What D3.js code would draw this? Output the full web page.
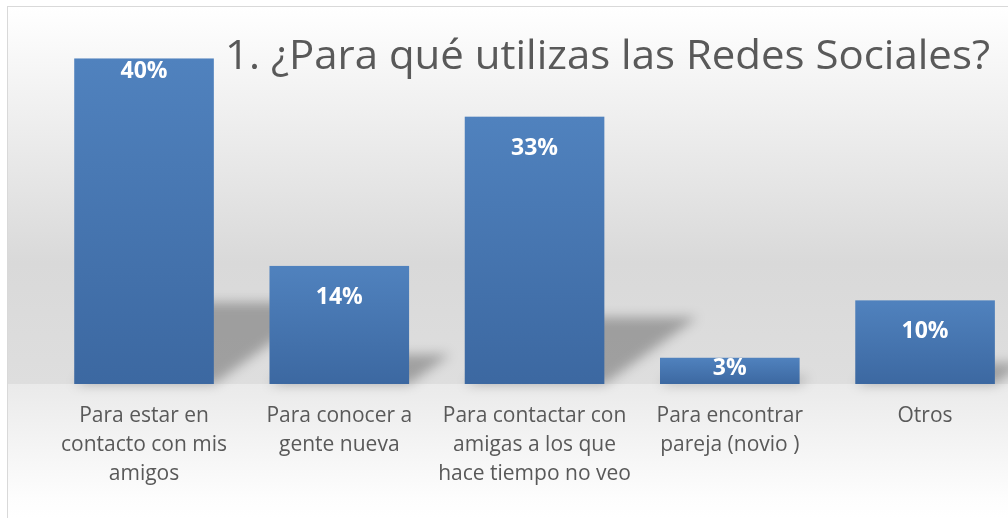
<!DOCTYPE html>
<html>
<meta charset="utf-8">
<head>
    <script src="https://d3js.org/d3.v7.min.js"></script>
</head>

<style>
  body { margin: 0; background: #fff; }
  svg text { font-family: "Open Sans", sans-serif; }
  svg .title { fill: #595959; font-size: 41px; }
  svg .cat-label { fill: #595959; font-size: 21px; text-anchor: middle; }
  svg .val-label { fill: #fff; font-size: 23px; font-weight: 700; text-anchor: middle; }
</style>

<body>
    <script>
        // data
        var categories = [
            "Para estar en\ncontacto con mis\namigos",
            "Para conocer a\ngente nueva",
            "Para contactar con\namigas a los que\nhace tiempo no veo",
            "Para encontrar\npareja (novio )",
            "Otros"
        ];
        var values = [39.7, 14.4, 32.6, 3.2, 10.2];
        var valueLabels = ["40%", "14%", "33%", "3%", "10%"];
        var titleText = "1. ¿Para qué utilizas las Redes Sociales?";

        var width = 1008,
            height = 518,
            baseY = 384;

        var svg = d3.select("body").append("svg")
            .attr("width", width)
            .attr("height", height);

        var defs = svg.append("defs");

        var bg = defs.append("linearGradient").attr("id", "bg")
            .attr("x1", 0).attr("y1", 0).attr("x2", 0).attr("y2", 1);
        bg.append("stop").attr("offset", "0%").attr("stop-color", "#ffffff");
        bg.append("stop").attr("offset", "45%").attr("stop-color", "#e6e6e6");
        bg.append("stop").attr("offset", "68%").attr("stop-color", "#d9d9d9");
        bg.append("stop").attr("offset", "100%").attr("stop-color", "#dedede");

        var floor = defs.append("linearGradient").attr("id", "floor")
            .attr("x1", 0).attr("y1", 0).attr("x2", 0).attr("y2", 1);
        floor.append("stop").attr("offset", "0%").attr("stop-color", "#eaeaea");
        floor.append("stop").attr("offset", "85%").attr("stop-color", "#fdfdfd");
        floor.append("stop").attr("offset", "100%").attr("stop-color", "#ffffff");

        var barGrad = defs.append("linearGradient").attr("id", "barGrad")
            .attr("x1", 0).attr("y1", 0).attr("x2", 0).attr("y2", 1);
        barGrad.append("stop").attr("offset", "0%").attr("stop-color", "#5082be");
        barGrad.append("stop").attr("offset", "100%").attr("stop-color", "#3c68a1");

        defs.append("filter").attr("id", "blur")
            .attr("x", "-50%").attr("y", "-50%").attr("width", "200%").attr("height", "200%")
            .append("feGaussianBlur").attr("stdDeviation", 6);

        // chart area background + border
        svg.append("rect").attr("x", 7).attr("y", 7).attr("width", width).attr("height", baseY - 7)
            .attr("fill", "url(#bg)");
        svg.append("rect").attr("x", 7).attr("y", baseY).attr("width", width).attr("height", height - baseY)
            .attr("fill", "url(#floor)");
        svg.append("rect").attr("x", 7.5).attr("y", 6.5).attr("width", width + 10).attr("height", height + 10)
            .attr("fill", "none").attr("stroke", "#d9d9d9");

        var x = d3.scaleBand()
            .domain(d3.range(categories.length))
            .range([46.4, 1022.7])
            .paddingInner(0.285)
            .paddingOuter(0.1425);

        var y = d3.scaleLinear()
            .domain([0, 45])
            .range([baseY, 15]);

        // perspective shadows behind the bars
        svg.append("g").attr("filter", "url(#blur)")
            .selectAll("polygon")
            .data(values)
            .enter().append("polygon")
            .attr("points", function(d, i) {
                var x0 = x(i), x1 = x(i) + x.bandwidth();
                var h = baseY - y(d), sh = h * 0.25, dx = sh * 1.39;
                return [[x0, baseY], [x1, baseY], [x1 + dx, baseY - sh], [x0 + dx, baseY - sh]].join(" ");
            })
            .attr("fill", "#000")
            .attr("opacity", 0.28);

        svg.append("g").selectAll("rect")
            .data(values)
            .enter().append("rect")
            .attr("x", function(d, i) { return x(i); })
            .attr("y", function(d) { return y(d); })
            .attr("width", x.bandwidth())
            .attr("height", function(d) { return baseY - y(d); })
            .attr("fill", "url(#barGrad)");

        // value labels, nudged like in the original
        var labelDy = [20, 38, 38, 17, 38];
        svg.append("g").selectAll("text")
            .data(values)
            .enter().append("text")
            .attr("class", "val-label")
            .attr("x", function(d, i) { return x(i) + x.bandwidth() / 2; })
            .attr("y", function(d, i) { return y(d) + labelDy[i]; })
            .text(function(d, i) { return valueLabels[i]; });

        // category labels
        var cats = svg.append("g").selectAll("text")
            .data(categories)
            .enter().append("text")
            .attr("class", "cat-label")
            .attr("x", function(d, i) { return x(i) + x.bandwidth() / 2; })
            .attr("y", 422);
        cats.selectAll("tspan")
            .data(function(d) { return d.split("\n"); })
            .enter().append("tspan")
            .attr("x", function() { return d3.select(this.parentNode).attr("x"); })
            .attr("dy", function(d, j) { return j === 0 ? 0 : 29; })
            .text(function(d) { return d; });

        svg.append("text")
            .attr("class", "title")
            .attr("x", 225)
            .attr("y", 69)
            .attr("textLength", 765)
            .attr("lengthAdjust", "spacingAndGlyphs")
            .text(titleText);
    </script>
</body>
</html>
